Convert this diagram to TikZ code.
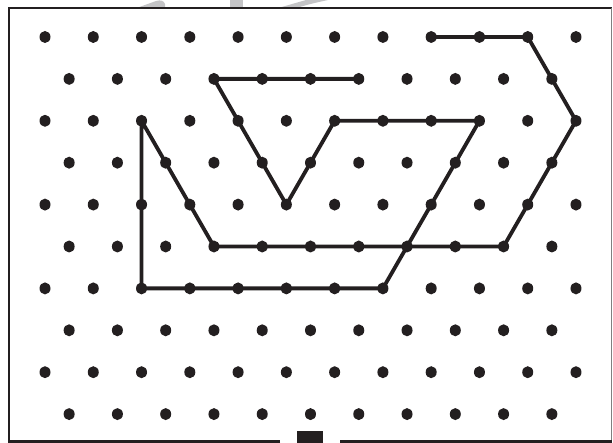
\documentclass[tikz,border=0pt]{standalone}
\usetikzlibrary{shapes.geometric}
\definecolor{ink}{RGB}{35,31,32}
\definecolor{wmark}{RGB}{196,196,198}
\begin{document}
\begin{tikzpicture}[x=1pt,y=-1pt,
  dotn/.style={ellipse,fill=ink,inner sep=0pt,minimum width=11pt,minimum height=12pt},
  trail/.style={draw=ink,line width=3.8pt,line join=round,line cap=round},
  frame/.style={draw=ink,line width=2.2pt}]
\useasboundingbox (0,0) rectangle (613,443);
% faint watermark above the frame
\fill[wmark] (138,7.5) -- (156,1) .. controls (161,-0.5) and (164,1) .. (165,4) -- (165,7.5) -- cycle;
\fill[wmark] (230,0) rectangle (243,7.5);
\fill[wmark] (280,7.5) -- (298,7.5) .. controls (310,4) .. (328,0) -- (306,0) .. controls (293,3) .. (280,7.5) -- cycle;
% frame
\draw[frame] (280,441.5) -- (8.7,441.5) -- (8.7,8.3) -- (612,8.3);
\draw[gray,line width=1pt] (611.8,8.3) -- (611.8,441.5);
\draw[frame] (612,441.5) -- (340,441.5);
\fill[ink] (297.3,431) rectangle (323.3,443);
% dot grid (name d-row-h, h = half-column index)
\foreach \r in {0,...,9}{
  \pgfmathtruncatemacro\rodd{mod(\r,2)}
  \foreach \c in {0,...,11}{
    \pgfmathtruncatemacro\hh{2*\c+\rodd}
    \ifnum\hh<23
      \coordinate (d-\r-\hh) at ({45+\hh*24.136},{37+\r*41.9});
    \fi
  }
}
% the trail
\draw[trail] (d-0-16) -- (d-0-18) -- (d-0-20) -- (d-1-21) -- (d-2-22) -- (d-3-21)
  -- (d-4-20) -- (d-5-19) -- (d-5-7) -- (d-4-6) -- (d-3-5) -- (d-2-4) -- (d-6-4)
  -- (d-6-14) -- (d-5-15) -- (d-4-16) -- (d-3-17) -- (d-2-18) -- (d-2-12)
  -- (d-3-11) -- (d-4-10) -- (d-3-9) -- (d-2-8) -- (d-1-7) -- (d-1-13);
% dots
\foreach \r in {0,...,9}{
  \pgfmathtruncatemacro\rodd{mod(\r,2)}
  \foreach \c in {0,...,11}{
    \pgfmathtruncatemacro\hh{2*\c+\rodd}
    \ifnum\hh<23
      \node[dotn] (p-\r-\hh) at (d-\r-\hh) {};
    \fi
  }
}
\end{tikzpicture}
\end{document}
